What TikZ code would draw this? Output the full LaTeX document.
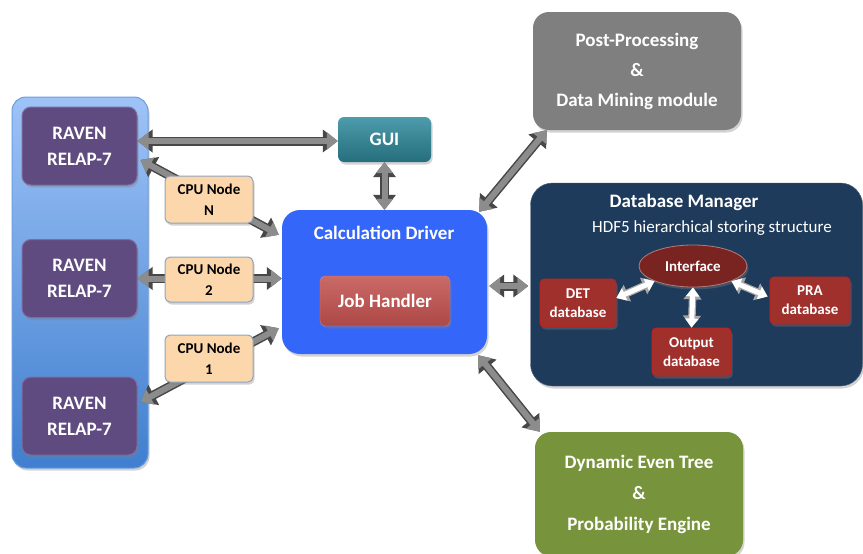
\documentclass[tikz,border=0pt]{standalone}
\usepackage{fontspec}
\setmainfont{Carlito}
\usetikzlibrary{arrows.meta,shapes.geometric,shadows,calc}
\definecolor{contTop}{HTML}{9EC3F7}
\definecolor{contBot}{HTML}{3F7FCF}
\definecolor{contEdge}{HTML}{6D9DE0}
\definecolor{purpleBox}{HTML}{5F4B80}
\definecolor{purpleEdge}{HTML}{7E6BA0}
\definecolor{peach}{HTML}{FCD7AC}
\definecolor{peachEdge}{HTML}{8FA3BA}
\definecolor{guiTeal}{HTML}{2E8A9C}
\definecolor{calcBlue}{HTML}{3566FA}
\definecolor{jobRed}{HTML}{C0504D}
\definecolor{postGray}{HTML}{7F7F7F}
\definecolor{dbNavy}{HTML}{1F3B5C}
\definecolor{ifaceRed}{HTML}{7A2422}
\definecolor{dbRed}{HTML}{A0302C}
\definecolor{treeGreen}{HTML}{77933C}
\tikzset{
  x=1pt, y=-1pt,
  shad/.style={drop shadow={opacity=0.35,shadow xshift=1.5pt,shadow yshift=-2.5pt}},
  box/.style={rounded corners=9pt, shad, text=white, align=center, inner sep=0pt,
    font=\bfseries\fontsize{19}{26}\selectfont},
  ravenbox/.style={box, fill=purpleBox, draw=purpleEdge, line width=1pt,
    minimum width=115pt, minimum height=78pt},
  cpubox/.style={rounded corners=5pt, shad, fill=peach, draw=peachEdge, line width=1pt,
    align=center, text=black, inner sep=0pt, minimum width=88pt, minimum height=47pt,
    font=\bfseries\fontsize{15}{21}\selectfont},
  dbbox/.style={rounded corners=4pt, shad, fill=dbRed, draw=red!35!dbRed, line width=0.8pt,
    text=white, align=center, inner sep=0pt, minimum width=78pt, minimum height=48pt,
    font=\bfseries\fontsize{15}{19}\selectfont},
  garrow/.style={draw=black!45, line width=6pt,
    arrows={Triangle[width=17pt,length=11pt]-Triangle[width=17pt,length=11pt]},
    preaction={draw=black!72, line width=9pt,
      arrows={Triangle[width=22pt,length=15pt]-Triangle[width=22pt,length=15pt]}}},
  warrow/.style={draw=white, line width=5pt,
    arrows={Triangle[width=13pt,length=9pt]-Triangle[width=13pt,length=9pt]},
    preaction={draw=gray!70, line width=7.5pt,
      arrows={Triangle[width=17.5pt,length=12pt]-Triangle[width=17.5pt,length=12pt]}}},
}
\begin{document}
\begin{tikzpicture}
\useasboundingbox (0,0) rectangle (863,554);
% left container
\node[rounded corners=14pt, shad, top color=contTop, bottom color=contBot, draw=contEdge,
  line width=1pt, minimum width=136pt, minimum height=371pt] (cluster) at (80,282.5) {};
\node[ravenbox] (raven1) at (79.5,146) {RAVEN\\RELAP-7};
\node[ravenbox] (raven2) at (79.5,278.5) {RAVEN\\RELAP-7};
\node[ravenbox] (raven3) at (79.5,416) {RAVEN\\RELAP-7};
% GUI
\node[box, rounded corners=6pt, top color=guiTeal!85!white, bottom color=guiTeal!80!black,
  minimum width=93pt, minimum height=45pt] (gui) at (384.5,139.5) {GUI};
% calculation driver
\node[box, rounded corners=18pt, fill=calcBlue, minimum width=205pt, minimum height=144pt]
  (calc) at (384.5,282) {};
\node[text=white, font=\bfseries\fontsize{19}{22}\selectfont] (calctitle) at (384,233) {Calculation Driver};
\node[box, rounded corners=5pt, top color=jobRed!85!white, bottom color=jobRed!90!black,
  draw=jobRed!70!white, minimum width=130pt, minimum height=50pt] (job) at (385,301) {Job Handler};
% post-processing
\node[box, rounded corners=16pt, fill=postGray, minimum width=208pt, minimum height=118pt,
  font=\bfseries\fontsize{19}{30}\selectfont] (post) at (637,71)
  {Post-Processing\\\&\\Data Mining module};
% database manager
\node[box, rounded corners=22pt, fill=dbNavy, draw=dbNavy!80!white, minimum width=332pt,
  minimum height=203pt] (db) at (696.5,284.5) {};
\node[text=white, font=\bfseries\fontsize{19}{22}\selectfont] (dbtitle) at (684,202) {Database Manager};
\node[text=white, font=\fontsize{17}{20}\selectfont] (dbsub) at (712,228) {HDF5 hierarchical storing structure};
\node[ellipse, shad, fill=ifaceRed, draw=ifaceRed!60!white, line width=0.8pt, text=white,
  inner sep=0pt, minimum width=108pt, minimum height=42pt,
  font=\bfseries\fontsize{15}{18}\selectfont] (iface) at (693,266) {Interface};
\node[dbbox, minimum width=76pt] (det) at (578,303) {DET\\database};
\node[dbbox, minimum width=80pt, minimum height=47pt] (pra) at (810,300.5) {PRA\\database};
\node[dbbox, minimum width=79pt] (out) at (691.5,352) {Output\\database};
% dynamic event tree
\node[box, rounded corners=16pt, fill=treeGreen, minimum width=208pt, minimum height=124pt,
  font=\bfseries\fontsize{19}{31}\selectfont] (tree) at (639,494)
  {Dynamic Even Tree\\\&\\Probability Engine};
% connectors
\draw[garrow] ([yshift=5pt]raven1.east) -- ([yshift=-1.5pt]gui.west);
\draw[garrow] ($(raven1.east)+(3,14)$) -- ($(calc.north west)+(-3,25)$);
\draw[garrow] (raven2.east) -- (raven2.east -| calc.west);
\draw[garrow] ($(raven3.east)+(3,-14)$) -- ($(calc.south west)+(-3,-26)$);
\draw[garrow] (gui.south) -- (calc.north);
\draw[garrow] ($(calc.north east)+(-8,2)$) -- ($(post.south west)+(14,0)$);
\draw[garrow] ($(calc.east)+(2,4)$) -- ($(db.west)+(-2,1.5)$);
\draw[garrow] ($(calc.south east)+(-9,1)$) -- ($(tree.north west)+(5,0)$);
\draw[warrow] ($(det.east)+(0,-5)$) -- (iface.south west);
\draw[warrow] (iface.south) -- (out.north);
\draw[warrow] (iface.south east) -- ($(pra.west)+(-2,-4)$);
% CPU nodes on top of the connectors
\node[cpubox] (cpuN) at (209,199.5) {CPU Node\\N};
\node[cpubox, minimum height=45pt] (cpu2) at (209,279.5) {CPU Node\\2};
\node[cpubox] (cpu1) at (209,358.5) {CPU Node\\1};
\end{tikzpicture}
\end{document}
